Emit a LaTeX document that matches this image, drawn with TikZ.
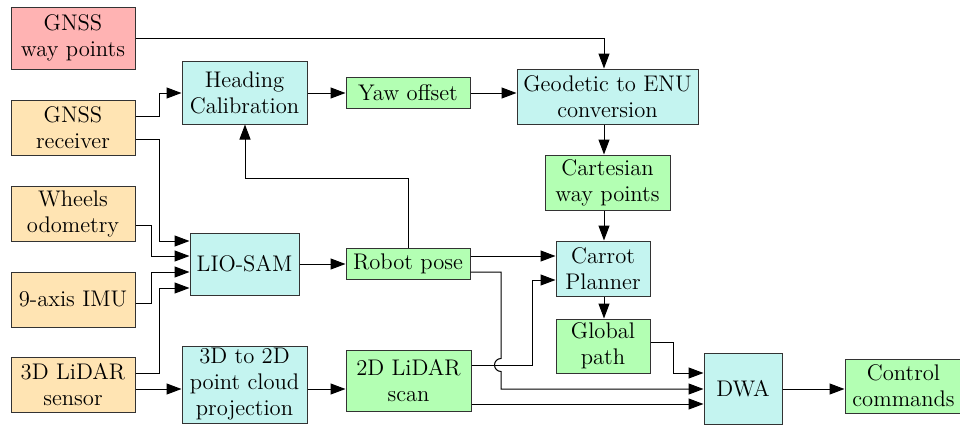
\documentclass[tikz,border=0pt]{standalone}
\usetikzlibrary{arrows.meta}
\definecolor{cred}{HTML}{FFB3B3}
\definecolor{corg}{HTML}{FFE4B3}
\definecolor{ccyan}{HTML}{C4F4F0}
\definecolor{cgrn}{HTML}{B3FFB3}
\begin{document}
\begin{tikzpicture}[x=0.5pt,y=-0.5pt,
 blk/.style={draw=black!80, line width=0.5pt, inner sep=0pt, align=center, font=\fontsize{11.3}{13}\selectfont},
 src/.style={blk, fill=corg, minimum width=62pt, minimum height=27.5pt},
 arr/.style={-{Triangle[length=7.5pt,width=5.5pt]}, line width=0.5pt, draw=black},
 ln/.style={line width=0.5pt, draw=black}]
\useasboundingbox (0,0) rectangle (960,429);
% left column
\node[blk, fill=cred, minimum width=62pt, minimum height=31pt] (gwp) at (73,38) {GNSS\\way points};
\node[src] (grx) at (73,127.5) {GNSS\\receiver};
\node[src] (wod) at (73,213.5) {Wheels\\odometry};
\node[src] (imu) at (73,299.5) {9-axis IMU};
\node[src] (lid) at (73,384.5) {3D LiDAR\\sensor};
% second column
\node[blk, fill=ccyan, minimum width=62.5pt, minimum height=31.5pt] (hc) at (244.5,92.5) {Heading\\Calibration};
\node[blk, fill=ccyan, minimum width=54.5pt, minimum height=31pt] (lio) at (244.5,264) {LIO-SAM};
\node[blk, fill=ccyan, minimum width=62.5pt, minimum height=38.5pt] (p2d) at (244.5,384.5) {3D to 2D\\point cloud\\projection};
% third column
\node[blk, fill=cgrn, minimum width=62pt, minimum height=15.5pt] (yaw) at (408,92.5) {Yaw offset};
\node[blk, fill=cgrn, minimum width=62pt, minimum height=15.5pt] (rp) at (408,263.5) {Robot pose};
\node[blk, fill=cgrn, minimum width=62.5pt, minimum height=30.5pt] (scan) at (408.5,380.5) {2D LiDAR\\scan};
% fourth column
\node[blk, fill=ccyan, minimum width=90.5pt, minimum height=27.5pt] (geo) at (607.5,96.5) {Geodetic to ENU\\conversion};
\node[blk, fill=cgrn, minimum width=62.5pt, minimum height=27.5pt] (cwp) at (607.5,182.5) {Cartesian\\way points};
\node[blk, fill=ccyan, minimum width=47pt, minimum height=27.5pt] (car) at (603,268.5) {Carrot\\Planner};
\node[blk, fill=cgrn, minimum width=47pt, minimum height=27pt] (gp) at (603,346) {Global\\path};
% right
\node[blk, fill=ccyan, minimum width=39pt, minimum height=35.5pt] (dwa) at (743,388.5) {DWA};
\node[blk, fill=cgrn, minimum width=58.5pt, minimum height=27pt] (ctl) at (903.5,386) {Control\\commands};
% connectors
\draw[arr] (gwp.east |- 0,38) -- (604,38) -- (geo.north -| 604,0);
\draw[arr] (grx.east |- 0,116) -- (159,116) -- (159,93) -- (hc.west |- 0,93);
\draw[arr] (grx.east |- 0,139) -- (159,139) -- (159,241) -- (lio.west |- 0,241);
\draw[arr] (wod.east |- 0,225) -- (151,225) -- (151,256) -- (lio.west |- 0,256);
\draw[arr] (imu.east |- 0,303) -- (151,303) -- (151,272) -- (lio.west |- 0,272);
\draw[arr] (lid.east |- 0,373) -- (159,373) -- (159,288) -- (lio.west |- 0,288);
\draw[arr] (lid.east |- 0,389) -- (p2d.west |- 0,389);
\draw[arr] (hc.east |- 0,93) -- (yaw.west |- 0,93);
\draw[arr] (yaw.east |- 0,93) -- (geo.west |- 0,93);
\draw[arr] (geo.south -| 604,0) -- (cwp.north -| 604,0);
\draw[arr] (cwp.south -| 604,0) -- (car.north -| 604,0);
\draw[arr] (lio.east |- 0,264) -- (rp.west |- 0,264);
\draw[arr] (rp.north) -- (408,178) -- (245,178) -- (hc.south -| 245,0);
\draw[arr] (rp.east |- 0,256) -- (car.west |- 0,256);
\draw[arr] (rp.east |- 0,272) -- (501,272) -- (501,358.5) arc[start angle=-90, end angle=-270, radius=6.5] -- (501,389) -- (dwa.west |- 0,389);
\draw[arr] (scan.east |- 0,365) -- (532,365) -- (532,280) -- (car.west |- 0,280);
\draw[arr] (scan.east |- 0,404) -- (dwa.west |- 0,404);
\draw[arr] (p2d.east |- 0,389) -- (scan.west |- 0,389);
\draw[arr] (car.south -| 604,0) -- (gp.north -| 604,0);
\draw[arr] (gp.east |- 0,342) -- (673,342) -- (673,373) -- (dwa.west |- 0,373);
\draw[arr] (dwa.east |- 0,389) -- (ctl.west |- 0,389);
\end{tikzpicture}
\end{document}
